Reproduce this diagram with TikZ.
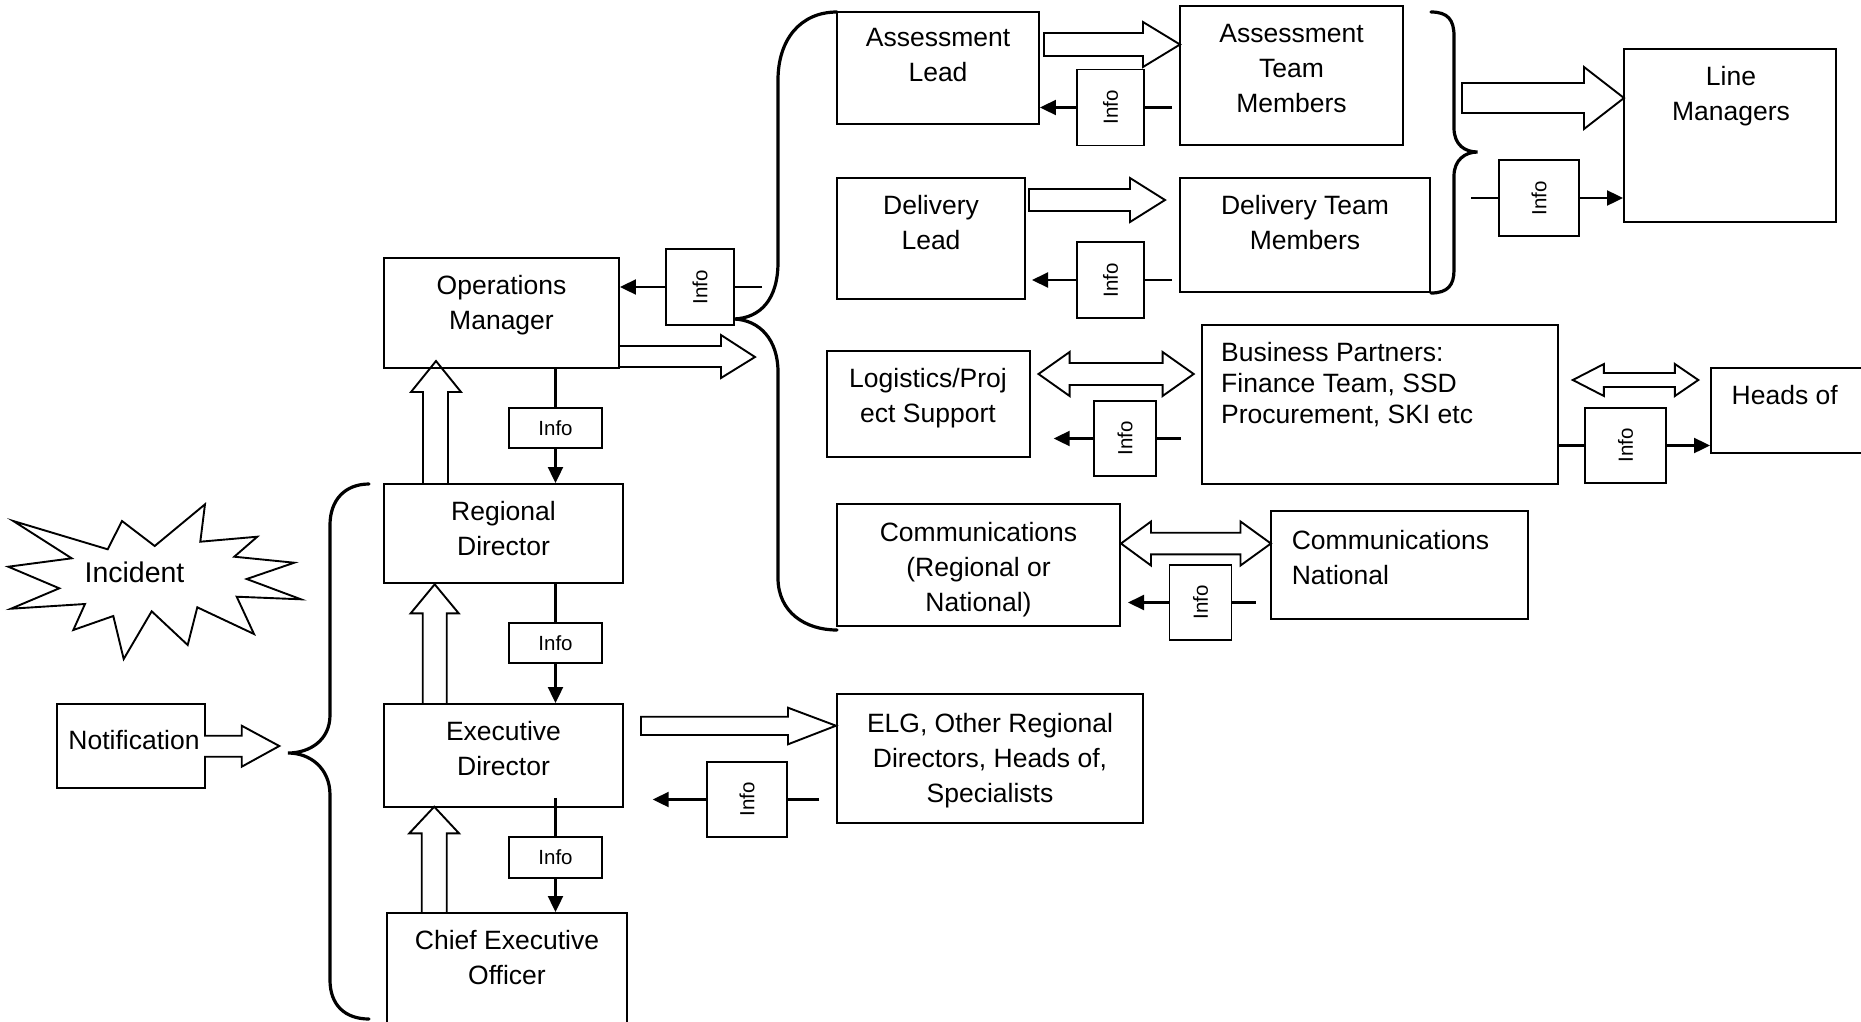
\documentclass[tikz,border=0pt]{standalone}
\usepackage{fontspec}
\usepackage{graphicx}
\setmainfont{Liberation Sans}
\usetikzlibrary{fit,arrows.meta}
\newcommand\txtc[1]{\begin{tabular}[t]{@{}c@{}}#1\end{tabular}}
\newcommand\txtl[1]{\begin{tabular}[t]{@{}l@{}}#1\end{tabular}}
\begin{document}
\begin{tikzpicture}[x=1pt,y=-1pt,
  box/.style={draw, line width=1.9pt, inner sep=0pt},
  lbl/.style={anchor=base, inner sep=0pt, font=\fontsize{26.5}{35}\selectfont},
  info/.style={box, font=\fontsize{20.5}{24}\selectfont},
  hinfo/.style={info, minimum width=93pt, minimum height=40pt},
  vinfo/.style={info, minimum width=#1, minimum height=76pt},
  vinfo/.default=67pt,
  ln/.style={draw, line width=2.1pt},
  arr/.style={ln, -{Triangle[length=16pt,width=15pt]}},
  harrow/.style={draw, line width=1.9pt, line join=miter},
  brace/.style={draw, line width=3.2pt, line cap=round}]
\path[use as bounding box] (0,0) rectangle (1861,1021);
\clip (0,0) rectangle (1861,1021);

% ---- boxes ----
\node[box, fit={(837,12) (1039,124)}] (al) {};
\node[box, fit={(1180,6) (1403,145)}] (atm) {};
\node[box, fit={(837,178) (1025,299)}] (dl) {};
\node[box, fit={(1180,178) (1430,292)}] (dtm) {};
\node[box, fit={(1624,49) (1836,222)}] (lm) {};
\node[box, fit={(384,258) (619,368)}] (om) {};
\node[box, fit={(384,484) (623,583)}] (rd) {};
\node[box, fit={(384,704) (623,807)}] (ed) {};
\node[box, fit={(387,913) (627,1040)}] (ceo) {};
\node[box, fit={(837,694) (1143,823)}] (elg) {};
\node[box, fit={(827,351) (1030,457)}] (log) {};
\node[box, fit={(1202,325) (1558,484)}] (bp) {};
\node[box, fit={(1711,368) (1890,453)}] (heads) {};
\node[box, fit={(837,504) (1120,626)}] (com) {};
\node[box, fit={(1271,511) (1528,619)}] (cn) {};

% notification box merged with its outgoing block arrow
\node[inner sep=0pt, fit={(57,704) (205,788)}] (notif) {};
\draw[harrow] (57,704) -- (205,704) -- (205,735.7) -- (241.7,735.7) -- (241.7,725.7)
  -- (279.3,746) -- (241.7,766.7) -- (241.7,756.7) -- (205,756.7) -- (205,788)
  -- (57,788) -- cycle;

% incident burst
\draw[harrow] (13.3,521) -- (107.7,549.3) -- (122,521) -- (154.7,546) -- (205,504.3)
  -- (200.3,541.7) -- (257.3,536.7) -- (234.3,556.7) -- (294.3,562.7) -- (246.7,579)
  -- (301,599.3) -- (236.7,596.7) -- (254,634) -- (197.3,607.3) -- (187.7,645)
  -- (151.7,611.3) -- (123.7,659) -- (113.3,616) -- (73.3,630) -- (85,604)
  -- (11,608.7) -- (59.3,588.3) -- (8.3,566.7) -- (71.7,558.3) -- cycle;

% ---- labels ----
\node[lbl] (al-t) at (938,46) {\txtc{Assessment\\Lead}};
\node[lbl] (atm-t) at (1291.5,42) {\txtc{Assessment\\Team\\Members}};
\node[lbl] (dl-t) at (931,214.5) {\txtc{Delivery\\Lead}};
\node[lbl] (dtm-t) at (1305,214.5) {\txtc{Delivery Team\\Members}};
\node[lbl] (lm-t) at (1731,85.5) {\txtc{Line\\Managers}};
\node[lbl] (om-t) at (501.5,294.5) {\txtc{Operations\\Manager}};
\node[lbl] (rd-t) at (503.5,520.5) {\txtc{Regional\\Director}};
\node[lbl] (ed-t) at (503.5,740.5) {\txtc{Executive\\Director}};
\node[lbl] (ceo-t) at (507,949.5) {\txtc{Chief Executive\\Officer}};
\node[lbl] (elg-t) at (990,732.5) {\txtc{ELG, Other Regional\\Directors, Heads of,\\Specialists}};
\node[lbl] (log-t) at (928,387.5) {\txtc{Logistics/Proj\\ect Support}};
\node[lbl, anchor=base west, font=\fontsize{26.5}{31}\selectfont] (bp-t) at (1221,361)
  {\txtl{Business Partners:\\Finance Team, SSD\\Procurement, SKI etc}};
\node[lbl, anchor=base west] (heads-t) at (1731.5,404.5) {Heads of};
\node[lbl] (com-t) at (978.5,541) {\txtc{Communications\\(Regional or\\National)}};
\node[lbl, anchor=base west] (cn-t) at (1291.6,549) {\txtl{Communications\\National}};
\node[lbl] (notif-t) at (134,749.5) {Notification};
\node[lbl, font=\fontsize{28.5}{34}\selectfont] (inc-t) at (134.5,582) {Incident};

% ---- info boxes ----
\node[hinfo] (i1) at (555.5,428) {Info};
\node[hinfo] (i2) at (555.5,643) {Info};
\node[hinfo, minimum height=41pt] (i3) at (555.5,857.5) {Info};
\node[vinfo=68pt] (iom) at (700,287) {\rotatebox{90}{Info}};
\node[vinfo] (ia) at (1110.5,107.5) {\rotatebox{90}{Info}};
\node[vinfo] (id) at (1110.5,280) {\rotatebox{90}{Info}};
\node[vinfo=80pt] (ilm) at (1539,198) {\rotatebox{90}{Info}};
\node[vinfo=62pt, minimum height=75pt] (ilog) at (1125,438.5) {\rotatebox{90}{Info}};
\node[vinfo=81pt, minimum height=75pt] (ih) at (1625.5,445.5) {\rotatebox{90}{Info}};
\node[vinfo=62pt, minimum height=75pt] (ic) at (1200.5,602.5) {\rotatebox{90}{Info}};
\node[vinfo=80pt, minimum height=75pt] (ie) at (747,799.5) {\rotatebox{90}{Info}};

% free ends of the info connectors
\coordinate (a-src) at (1172,107.5);
\coordinate (d-src) at (1172,280);
\coordinate (d-dst) at (1032,280);
\coordinate (lm-src) at (1471,198);
\coordinate (om-src) at (762,287);
\coordinate (log-src) at (1181,438.5);
\coordinate (log-dst) at (1053.7,438.5);
\coordinate (c-src) at (1255.7,602.5);
\coordinate (c-dst) at (1128,602.5);
\coordinate (e-src) at (819.3,799.5);
\coordinate (e-dst) at (652.7,799.5);

% ---- info connectors ----
\draw[ln] (om.south -| i1.north) -- (i1.north);
\draw[arr] (i1.south) -- (i1.south |- rd.north);
\draw[ln] (rd.south -| i2.north) -- (i2.north);
\draw[arr] (i2.south) -- (i2.south |- ed.north);
\draw[ln] ([yshift=10pt]ed.south -| i3.north) -- (i3.north);
\draw[arr] (i3.south) -- (i3.south |- ceo.north);
\draw[ln] (om-src) -- (iom.east);
\draw[arr] (iom.west) -- (om.east |- iom.west);
\draw[ln] (a-src) -- (ia.east);
\draw[arr] (ia.west) -- (al.east |- ia.west);
\draw[ln] (d-src) -- (id.east);
\draw[arr] (id.west) -- (d-dst);
\draw[ln] (lm-src) -- (ilm.west);
\draw[arr] (ilm.east) -- (lm.west |- ilm.east);
\draw[ln] (log-src) -- (ilog.east);
\draw[arr] (ilog.west) -- (log-dst);
\draw[ln] (bp.east |- ih.west) -- (ih.west);
\draw[arr] (ih.east) -- (heads.west |- ih.east);
\draw[ln] (c-src) -- (ic.east);
\draw[arr] (ic.west) -- (c-dst);
\draw[ln] (e-src) -- (ie.east);
\draw[arr] (ie.west) -- (e-dst);

% ---- block arrows ----
\draw[harrow] (1044,33) -- (1143,33) -- (1143,22) -- (1180,44.5) -- (1143,67) -- (1143,56) -- (1044,56) -- cycle;
\draw[harrow] (1029,189) -- (1130,189) -- (1130,178) -- (1165,200) -- (1130,222) -- (1130,211) -- (1029,211) -- cycle;
\draw[harrow] (1462,83) -- (1584,83) -- (1584,67) -- (1624,98) -- (1584,129) -- (1584,113) -- (1462,113) -- cycle;
\draw[harrow] (619,346) -- (721,346) -- (721,335) -- (755,357) -- (721,378) -- (721,367) -- (619,367);
\draw[harrow] (641,716.7) -- (788,716.7) -- (788,707.7) -- (836,725.7) -- (788,744.3) -- (788,735) -- (641,735) -- cycle;
% upward escalation arrows
\draw[harrow] (423,484) -- (423,392) -- (411,392) -- (436,361) -- (461,392) -- (448,392) -- (448,484);
\draw[harrow] (422.7,704) -- (422.7,613.3) -- (410.7,613.3) -- (434.7,584.3) -- (458.7,613.3) -- (446.7,613.3) -- (446.7,704);
\draw[harrow] (421.7,913) -- (421.7,833.3) -- (409.3,833.3) -- (434.2,806.7) -- (459,833.3) -- (446.7,833.3) -- (446.7,913);
% two-way arrows
\draw[harrow] (1038.5,374) -- (1069.6,352) -- (1069.6,363) -- (1162.6,363) -- (1162.6,352) -- (1193.7,374)
  -- (1162.6,396) -- (1162.6,385) -- (1069.6,385) -- (1069.6,396) -- cycle;
\draw[harrow] (1572.8,380) -- (1603.9,364) -- (1603.9,373) -- (1674.9,373) -- (1674.9,364) -- (1698.3,380)
  -- (1674.9,396) -- (1674.9,387) -- (1603.9,387) -- (1603.9,396) -- cycle;
\draw[harrow] (1121,543.5) -- (1151,521.5) -- (1151,532.7) -- (1240.5,532.7) -- (1240.5,521.5) -- (1270.9,543.5)
  -- (1240.5,565.5) -- (1240.5,554.3) -- (1151,554.3) -- (1151,565.5) -- cycle;

% ---- braces ----
\draw[brace] (837,12) .. controls (800,12) and (778,40) .. (778,80) -- (778,262)
  .. controls (778,300) and (760,318) .. (734,319)
  .. controls (760,320) and (778,340) .. (778,372) -- (778,578)
  .. controls (778,612) and (805,630) .. (837,630);
\draw[brace] (1431,12) .. controls (1448,12) and (1454,20) .. (1454,36) -- (1454,128)
  .. controls (1454,145) and (1465,152) .. (1477.5,152)
  .. controls (1465,152) and (1454,160) .. (1454,176) -- (1454,270)
  .. controls (1454,285) and (1448,293) .. (1431,293);
\draw[brace] (369,484) .. controls (345,484) and (330,500) .. (330,525) -- (330,715)
  .. controls (330,740) and (310,753) .. (288,753)
  .. controls (310,753) and (330,768) .. (330,795) -- (330,980)
  .. controls (330,1005) and (345,1019) .. (369,1019);
\end{tikzpicture}
\end{document}
